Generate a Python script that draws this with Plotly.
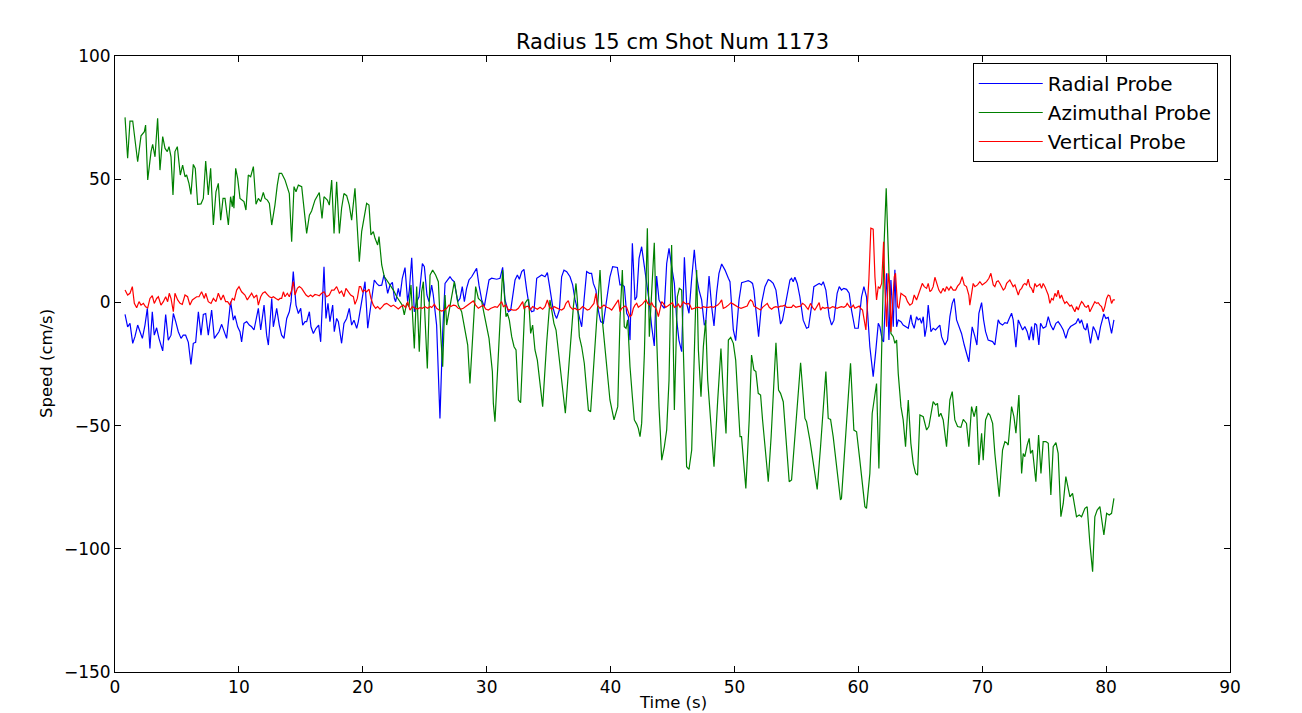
import plotly.graph_objs as go

# Radial probe (blue) - time in s, speed in cm/s
radial_t = [0.81, 1.02, 1.21, 1.43, 1.61, 1.83, 2.02, 2.21, 2.42, 2.61, 2.82, 3.01, 3.17, 3.36, 3.55, 3.85,
            4.09, 4.30, 4.52, 4.71, 4.90, 5.11, 5.33, 5.51, 5.70, 5.92, 6.13, 6.32, 6.51, 6.73, 6.94, 7.13,
            7.32, 7.53, 7.80, 8.02, 8.20, 8.39, 8.61, 8.82, 9.01, 9.33, 9.55, 9.68, 9.90, 10.09,
            10.22, 10.41, 10.63, 10.84, 11.03, 11.22, 11.57, 11.76, 12.03, 12.24, 12.38, 12.65, 12.78, 12.91,
            13.05, 13.26, 13.45, 13.64, 13.86, 14.07, 14.21, 14.39, 14.61, 14.80, 14.99, 15.15, 15.34, 15.47,
            15.69, 15.82, 16.01, 16.22, 16.44, 16.60, 16.87, 17.03, 17.19, 17.35, 17.57, 17.70, 17.89, 18.03,
            18.29, 18.48, 18.70, 18.91, 19.10, 19.29, 19.51, 19.64, 19.83, 20.10, 20.18,
            20.40, 20.58, 20.93, 21.12, 21.31, 21.53, 21.71, 21.85, 22.01, 22.20, 22.39, 22.55, 22.65, 22.87,
            23.00, 23.19, 23.41, 23.62, 23.76, 23.95, 24.16, 24.35, 24.54, 24.81, 24.97, 25.18, 25.34, 25.56,
            25.69, 25.96, 26.23, 26.45, 26.64, 26.85, 27.04, 27.23, 27.39, 27.66, 27.85, 28.03, 28.20, 28.38,
            28.57, 28.79, 29.00, 29.19, 29.38, 29.60, 29.81, 30.00, 30.19, 30.40,
            30.81, 31.08, 31.29, 31.48, 31.75, 31.94, 32.10, 32.29, 32.48, 32.64, 32.83, 33.01, 33.23, 33.44,
            33.63, 33.82, 34.04, 34.25, 34.44, 34.71, 34.90, 35.06, 35.33, 35.52, 35.65, 35.87, 36.05, 36.24,
            36.46, 36.73, 36.94, 37.13, 37.40, 37.67, 37.86, 38.07, 38.29, 38.47, 38.61, 38.82, 39.01, 39.20,
            39.42, 39.74, 39.95, 40.17, 40.36, 40.55,
            40.76, 40.95, 41.11, 41.30, 41.44, 41.57, 41.76, 41.97, 42.11, 42.30, 42.51, 42.73, 42.92, 43.10,
            43.32, 43.53, 43.72, 43.91, 44.13, 44.34, 44.53, 44.72, 44.93, 45.15, 45.34, 45.52, 45.74, 45.96,
            46.14, 46.33, 46.55, 46.76, 46.95, 47.14, 47.35, 47.57, 47.68, 47.95, 48.16, 48.35, 48.56, 48.75,
            48.97, 49.24, 49.51, 49.64, 49.91, 50.10, 50.37, 50.58,
            50.84, 51.11, 51.30, 51.46, 51.57, 51.79, 51.95, 52.19, 52.46, 52.73, 52.91, 53.13, 53.35, 53.53,
            53.72, 53.88, 54.21, 54.48, 54.61, 54.74, 54.88, 55.07, 55.28, 55.55, 55.82, 55.98, 56.22, 56.41,
            56.63, 56.84, 57.03, 57.17, 57.38, 57.65, 57.84, 58.03, 58.29, 58.46, 58.64, 58.83, 59.05, 59.26,
            59.45, 59.72, 59.99, 60.26, 60.45, 60.66,
            60.93, 61.20, 61.39, 61.61, 61.74, 61.93, 62.04, 62.28, 62.47, 62.63, 62.74, 62.82, 62.95, 63.09,
            63.22, 63.44, 63.62, 63.81, 64.03, 64.24, 64.35, 64.51, 64.70, 64.83, 64.97, 65.10, 65.24, 65.37,
            65.51, 65.64, 65.86, 66.04, 66.23, 66.45, 66.58, 66.72, 66.99, 67.20, 67.39, 67.58, 67.74, 67.93,
            68.12, 68.33, 68.55, 68.92, 69.08, 69.19, 69.41, 69.57, 69.73, 69.95, 70.11, 70.27, 70.48,
            70.84, 71.02, 71.29, 71.43, 71.64, 71.83, 72.02, 72.18, 72.37, 72.50, 72.72, 72.91, 73.09, 73.26,
            73.44, 73.63, 73.79, 73.98, 74.12, 74.25, 74.39, 74.57, 74.71, 74.92, 75.14, 75.33, 75.52, 75.73,
            75.95, 76.13, 76.32, 76.54, 76.75, 76.94, 77.13, 77.35, 77.56, 77.75, 77.88, 78.02, 78.21, 78.37,
            78.47, 78.74, 78.96, 79.17, 79.36, 79.55, 79.82, 79.98, 80.17, 80.44, 80.63]
radial_v = [-4.9, -9.9, -8.5, -16.6, -13.9, -9.2, -11.9, -14.6, -9.2, -2.4, -18.7, -3.8, -13.3, -10.3, -14.6, -19.7,
            -4.9, -15.3, -13.3, -4.5, -7.8, -11.9, -14.6, -13.3, -13.3, -16.2, -25.2, -16.6, -16.2, -3.8, -13.3, -4.9,
            -4.5, -13.3, -3.1, -14.6, -13.3, -11.9, -8.9, -11.6, -14.6, 0.3, -7.2, -5.4, -9.9, -11.9,
            -16.0, -8.5, -7.8, -9.2, -9.9, -11.2, -2.4, -11.2, -1.1, -13.3, -17.3, 1.6, -9.9, -6.5,
            -2.4, -9.2, -13.3, -14.6, -6.5, -3.8, 0.3, 12.5, -1.1, -4.5, -2.4, -9.2, -7.8, -7.8,
            -3.8, -9.9, -12.6, -10.5, -9.2, -16.0, 14.5, -6.5, -0.4, -7.8, -1.1, -11.9, -6.5, -7.8,
            -16.6, -8.5, -6.5, -2.4, -9.2, -7.2, -10.5, -7.8, -2.4, 5.0, 8.4,
            -10.5, -3.8, 9.1, 7.7, 6.8, 7.0, 11.1, 8.4, 3.7, 7.0, 8.1, 1.6, 0.3, 5.7,
            2.3, 9.8, 14.1, 0.3, 5.0, 18.1, -3.8, 0.3, 2.3, 15.8, 14.5, 3.0, 0.3, 7.0,
            3.0, -9.2, -47.1, -11.9, 7.7, 9.1, 10.4, 9.1, 8.4, 0.3, 1.6, 6.4, 0.3, 5.7,
            9.1, 10.4, 12.5, 13.8, 7.0, 1.0, -1.7, 4.3, 9.1, 9.8,
            9.4, 9.8, 14.2, 1.0, -3.8, -3.1, 2.3, 9.1, 11.1, 9.4, 12.5, 13.4, 5.0, -1.7,
            -3.8, -3.4, 9.8, 10.4, 11.1, 10.4, 12.1, 7.1, -1.7, -5.1, -6.5, -3.1, 10.4, 13.1,
            12.5, 10.4, 7.1, 1.2, -4.4, -9.9, 1.0, 12.5, 11.8, 11.8, 7.7, 5.0, -3.1, -7.8,
            -8.5, 2.3, 10.4, 14.5, 14.2, 14.2,
            7.1, 7.1, 6.4, -4.4, -5.8, -15.3, 24.0, 1.0, 2.3, 17.9, 22.6, 14.5, 7.7, 1.0,
            -9.9, -17.7, 10.7, 1.0, -1.1, -2.4, 15.8, 21.9, 14.5, 7.7, -7.2, -15.3, -20.0, 18.3,
            -0.4, -4.4, 9.8, 21.3, 10.4, 5.0, 1.0, -9.2, -8.5, 10.7, -1.7, -9.6, 3.7, 11.8,
            15.6, 13.1, 9.8, 8.4, -11.2, -15.5, 1.0, 8.0,
            8.4, 8.8, 8.4, 7.7, 5.0, -5.8, -13.9, -0.4, 6.4, 9.3, 8.8, 7.7, 5.0, -1.7,
            -8.8, -7.2, 2.3, 9.1, 9.8, 8.4, 10.2, 7.7, 2.3, -7.2, -10.5, -10.1, -1.7, 6.4,
            7.1, 7.7, 7.1, 8.4, 5.0, -5.8, -9.2, -7.2, 3.7, 6.4, 5.0, 5.7, 5.3, 3.7,
            -3.1, -10.5, -10.5, 2.3, 6.4, 2.3,
            -18.0, -30.1, -20.7, -8.5, -9.9, -15.3, -16.0, 11.8, -15.3, 9.1, -1.7, -9.9, 13.2, -9.9,
            -7.1, -7.8, -9.2, -9.9, -10.5, -5.1, -8.5, -10.5, -5.8, -7.1, -6.5, -8.5, -5.8, -13.9,
            -9.9, -1.1, -11.9, -10.5, -11.2, -9.9, -9.2, -13.9, -17.3, -15.3, -5.8, -0.4, 1.6, -7.1,
            -9.9, -12.6, -17.3, -24.1, -15.3, -9.9, -13.9, -17.3, -4.4, -0.1, -7.1, -11.9, -15.3,
            -15.9, -17.3, -7.1, -8.5, -9.2, -8.2, -8.5, -6.5, -4.4, -7.1, -18.2, -7.1, -9.2, -11.2,
            -9.8, -11.9, -15.3, -9.8, -15.3, -8.5, -9.2, -17.3, -8.5, -10.5, -9.8, -5.8, -9.2, -11.2,
            -8.5, -7.8, -9.2, -11.2, -14.6, -11.2, -9.8, -9.2, -8.5, -6.5, -8.5, -7.1, -10.5, -11.2,
            -8.5, -16.6, -9.8, -11.9, -15.3, -9.8, -4.7, -6.5, -6.1, -12.6, -7.1]

# Azimuthal probe (green)
azimuthal_t = [0.81, 1.02, 1.21, 1.43, 1.83, 2.10, 2.37, 2.47, 2.64, 2.91, 3.04, 3.23, 3.44, 3.63, 3.85, 4.04,
               4.22, 4.36, 4.52, 4.68, 4.84, 5.03, 5.27, 5.46, 5.65, 5.78, 5.97, 6.13, 6.32, 6.48, 6.67, 6.94,
               7.13, 7.32, 7.53, 7.72, 7.94, 8.15, 8.34, 8.53, 8.72, 8.88, 9.15, 9.33, 9.47, 9.55, 9.60, 9.74,
               9.90, 10.09,
               10.41, 10.57, 10.76, 10.95, 11.17, 11.38, 11.57, 11.76, 11.97, 12.11, 12.30, 12.46, 12.65, 12.91,
               13.10, 13.26, 13.45, 13.72, 14.07, 14.26, 14.45, 14.61, 14.80, 15.07, 15.47, 15.69, 15.87, 16.14,
               16.49, 16.71, 16.87, 17.14, 17.30, 17.49, 17.68, 17.89, 18.11, 18.29, 18.48, 18.70, 18.91, 19.10,
               19.37, 19.72, 19.91, 20.10, 20.31,
               20.50, 20.66, 20.85, 20.99, 21.20, 21.31, 21.53, 21.74, 21.93, 22.20, 22.47, 22.74, 23.00, 23.19,
               23.35, 23.54, 23.73, 23.89, 24.16, 24.35, 24.56, 24.75, 24.89, 25.21, 25.43, 25.64, 25.88, 26.10,
               26.31, 26.45, 26.64, 26.77, 27.39, 27.71, 27.98, 28.25, 28.47, 28.65, 28.92, 29.11, 29.33, 29.60,
               29.81, 30.19, 30.46,
               30.54, 30.67, 31.29, 31.56, 31.67, 31.83, 32.02, 32.21, 32.37, 32.56, 32.74, 33.09, 33.28, 33.39,
               33.55, 33.71, 33.90, 34.09, 34.31, 34.52, 34.84, 35.11, 35.25, 35.43, 35.60, 35.78, 35.97, 36.19,
               36.35, 36.67, 37.00, 37.21, 37.32, 37.48, 37.67, 37.88, 38.07, 38.21, 38.39, 38.74, 39.15, 39.36,
               39.55, 39.74, 39.95, 40.28,
               40.58, 40.76, 40.95, 41.11, 41.25, 41.38, 41.57, 41.76, 41.92, 42.11, 42.24, 42.38, 42.51, 42.73,
               42.86, 42.97, 43.13, 43.32, 43.53, 43.72, 43.91, 44.13, 44.34, 44.53, 44.72, 44.93, 45.15, 45.39,
               45.55, 45.74, 45.93, 46.14, 46.33, 46.55, 46.76, 46.95, 47.09, 47.30, 47.49, 47.68, 47.84, 48.16,
               48.35, 48.65, 48.91, 49.10, 49.32, 49.51, 49.70, 49.91, 50.10, 50.31, 50.45,
               50.57, 50.92, 51.19, 51.38, 51.57, 51.73, 51.92, 52.11, 52.27, 52.46, 52.73, 52.96, 53.18, 53.35,
               53.56, 53.72, 53.94, 54.15, 54.42, 54.61, 54.96, 55.34, 55.69, 55.82, 56.09, 56.41, 56.68, 56.95,
               57.38, 57.57, 57.76, 57.97, 58.24, 58.56, 58.64, 58.99, 59.37, 59.64, 59.86, 60.12, 60.53,
               60.66, 60.93, 61.12, 61.34, 61.47, 61.66, 61.88, 62.09, 62.25, 62.41, 62.63, 62.82, 62.95, 63.09,
               63.22, 63.44, 63.62, 63.81, 64.03, 64.24, 64.43, 64.62, 64.78, 64.97, 65.24, 65.51, 65.69, 66.04,
               66.23, 66.39, 66.50, 66.66, 66.85, 67.12, 67.39, 67.58, 67.79, 68.01, 68.28, 68.47, 68.73, 68.92,
               69.14, 69.35, 69.54, 69.73, 69.95, 70.08, 70.27, 70.48,
               70.62, 70.84, 71.02, 71.37, 71.64, 71.83, 71.97, 72.10, 72.37, 72.56, 72.72, 72.96, 73.18, 73.31,
               73.44, 73.63, 73.79, 73.90, 74.06, 74.33, 74.55, 74.74, 74.92, 75.14, 75.33, 75.54, 75.73, 75.95,
               76.13, 76.35, 76.54, 76.75, 76.94, 77.08, 77.29, 77.48, 77.61, 77.83, 78.02, 78.29, 78.47, 78.69,
               78.91, 79.09, 79.28, 79.50, 79.82, 80.04, 80.25, 80.44, 80.63]
azimuthal_v = [75.1, 58.5, 73.6, 73.6, 57.1, 67.6, 69.3, 72.0, 49.7, 61.2, 64.1, 59.1, 74.7, 53.7, 67.3, 62.5,
               61.2, 63.2, 59.1, 43.6, 61.2, 63.2, 51.7, 55.7, 51.0, 51.7, 48.3, 43.8, 56.0, 54.4, 39.8, 40.0,
               42.2, 57.4, 43.6, 54.4, 31.4, 44.9, 48.3, 33.4, 42.2, 42.2, 31.4, 42.9, 38.8, 43.3, 38.2, 54.4,
               50.3, 42.2,
               40.9, 37.5, 51.7, 51.0, 55.1, 39.8, 42.2, 40.9, 44.6, 42.2, 41.5, 40.2, 31.4, 39.5,
               47.6, 52.4, 52.4, 49.7, 44.2, 24.6, 47.0, 44.9, 47.6, 47.0, 28.0, 35.4, 37.1, 41.5,
               44.6, 34.1, 42.9, 41.5, 39.5, 49.7, 28.0, 49.0, 28.0, 38.2, 44.2, 43.3, 39.5, 33.4,
               46.3, 16.5, 28.7, 34.1, 40.2,
               39.5, 27.4, 28.7, 26.0, 23.3, 26.7, 15.2, 10.4, 9.1, 7.1, 5.0, 2.3, 0.3, -1.1,
               -5.1, -0.4, -1.7, 7.1, -18.7, 6.4, -20.0, 4.3, 8.4, -26.8, 11.1, 13.1, 11.1, 8.4,
               -14.6, -26.1, 3.0, -9.2, 8.4, -1.1, -3.8, -11.9, -17.3, -32.9, -9.2, 6.4, 1.6, 0.3,
               -5.1, -14.6, -28.1,
               -41.0, -48.4, 13.1, -5.8, -4.4, -7.2, -13.9, -18.0, -19.3, -39.6, -40.7, -0.4, 1.0, 1.0,
               -12.6, -9.2, -19.3, -23.4, -34.2, -42.3, -16.6, 1.0, -3.1, -8.5, -11.2, -19.3, -26.1, -38.3,
               -45.0, -23.4, -1.7, 7.7, 1.0, -13.9, -18.0, -24.7, -34.2, -43.7, -44.4, -19.3, 13.1, -8.5,
               -19.3, -27.4, -39.6, -47.7,
               -42.3, -7.1, 13.1, -9.9, -10.5, -7.1, -26.1, -38.3, -47.7, -49.4, -51.1, -54.5, -49.1, -20.7,
               6.4, 30.1, -13.9, 6.4, 24.2, -13.9, -42.3, -64.0, -58.6, -51.8, -31.5, 23.3, -43.7, 2.3,
               5.7, 5.0, -34.2, -66.7, -67.8, -59.9, -20.7, 13.1, -19.3, -38.3, -18.0, -7.2, -31.5, -54.5,
               -66.7, -39.6, -18.7, -36.9, -53.2, -15.3, -14.2, -16.6, -23.4, -42.3, -54.5,
               -54.5, -75.5, -47.7, -21.4, -27.4, -28.1, -36.9, -37.6, -47.7, -58.6, -72.8, -54.5, -34.2, -16.4,
               -35.6, -36.9, -40.3, -53.2, -72.8, -72.1, -47.7, -24.5, -47.1, -48.4, -55.9, -68.0, -75.9, -58.6,
               -28.1, -47.1, -47.5, -54.5, -66.7, -80.2, -79.5, -53.2, -24.7, -51.8, -52.5, -64.0, -82.9,
               -83.6, -69.4, -45.0, -36.9, -32.9, -67.4, -18.0, 25.3, 46.3, 17.2, -12.6, -13.9, -16.6, -15.3,
               -28.8, -42.3, -47.7, -58.6, -39.6, -57.2, -65.3, -69.4, -70.1, -45.7, -46.4, -51.8, -50.4, -40.3,
               -41.6, -41.0, -46.4, -45.0, -47.7, -58.6, -39.6, -36.2, -47.7, -50.4, -50.7, -47.5, -49.1, -58.6,
               -42.3, -46.4, -42.1, -66.0, -53.1, -64.0, -47.7, -45.0,
               -45.7, -49.1, -61.3, -78.9, -59.9, -56.5, -56.9, -57.9, -42.3, -46.4, -53.1, -37.6, -69.4, -61.3,
               -62.6, -57.9, -55.2, -61.3, -59.9, -72.8, -53.8, -69.4, -56.5, -56.5, -57.2, -78.2, -58.6, -56.9,
               -61.3, -87.0, -81.6, -70.7, -74.8, -78.9, -77.5, -83.6, -87.0, -86.3, -87.0, -83.6, -82.9, -97.8,
               -109.3, -87.0, -84.3, -82.9, -94.4, -85.6, -86.3, -85.6, -79.5]

# Vertical probe (red)
vertical_t = [0.81, 1.02, 1.21, 1.40, 1.56, 1.75, 1.94, 2.10, 2.29, 2.47, 2.64, 2.82, 3.01, 3.17, 3.36, 3.50,
              3.71, 3.90, 4.09, 4.25, 4.38, 4.52, 4.71, 4.84, 5.06, 5.25, 5.43, 5.65, 5.86, 6.05, 6.24, 6.40,
              6.59, 6.78, 6.99, 7.21, 7.32, 7.53, 7.75, 7.94, 8.15, 8.34, 8.55, 8.74, 8.93, 9.09, 9.28, 9.47,
              9.63, 9.82, 10.01, 10.22,
              10.49, 10.68, 10.84, 11.03, 11.22, 11.44, 11.57, 11.76, 11.92, 12.11, 12.30, 12.46, 12.65, 12.78,
              12.99, 13.18, 13.32, 13.45, 13.59, 13.72, 13.91, 14.07, 14.26, 14.39, 14.53, 14.72, 14.88, 15.07,
              15.25, 15.42, 15.60, 15.79, 15.95, 16.14, 16.33, 16.49, 16.68, 16.87, 17.08, 17.30, 17.49, 17.68,
              17.89, 18.11, 18.29, 18.48, 18.64, 18.83, 19.02, 19.24, 19.37, 19.56, 19.72, 19.83, 19.99, 20.18,
              20.31, 20.50, 20.66, 20.85, 21.04, 21.20, 21.39, 21.58, 21.74, 21.93, 22.12, 22.28, 22.47, 22.65,
              22.87, 23.09, 23.27, 23.46, 23.62, 23.81, 24.00, 24.22, 24.43, 24.62, 24.81, 25.02, 25.24, 25.43,
              25.56, 25.78, 25.96, 26.15, 26.37, 26.58, 26.77, 26.96, 27.12, 27.31, 27.50, 27.71, 27.93, 28.12,
              28.30, 28.52, 28.73, 28.92, 29.11, 29.33, 29.54, 29.73, 29.92, 30.13, 30.35,
              30.67, 30.86, 31.02, 31.21, 31.35, 31.56, 31.75, 31.94, 32.15, 32.37, 32.56, 32.74, 32.91, 33.01,
              33.18, 33.36, 33.50, 33.71, 33.90, 34.09, 34.31, 34.52, 34.71, 34.90, 35.06, 35.25, 35.43, 35.65,
              35.87, 36.05, 36.24, 36.40, 36.59, 36.73, 36.94, 37.13, 37.32, 37.53, 37.75, 37.94, 38.12, 38.29,
              38.47, 38.66, 38.82, 38.93, 39.15, 39.28, 39.47, 39.69, 39.90, 40.09, 40.28, 40.44, 40.63,
              40.76, 40.90, 41.03, 41.17, 41.30, 41.44, 41.57, 41.71, 41.84, 41.97, 42.11, 42.24, 42.38, 42.57,
              42.73, 42.86, 43.00, 43.18, 43.32, 43.45, 43.59, 43.72, 43.86, 43.99, 44.13, 44.26, 44.45, 44.61,
              44.74, 44.88, 44.99, 45.15, 45.34, 45.47, 45.61, 45.74, 45.87, 46.01, 46.14, 46.28, 46.41, 46.55,
              46.76, 46.95, 47.14, 47.30, 47.49, 47.68, 47.89, 48.11, 48.30, 48.48, 48.65, 48.83, 48.97, 49.10,
              49.29, 49.51, 49.72, 49.91, 50.10, 50.31, 50.53, 50.72,
              50.84, 51.03, 51.19, 51.30, 51.46, 51.57, 51.73, 51.92, 52.11, 52.27, 52.46, 52.65, 52.81, 53.00,
              53.18, 53.35, 53.53, 53.72, 53.88, 54.07, 54.21, 54.42, 54.61, 54.74, 54.96, 55.15, 55.34, 55.50,
              55.69, 55.82, 55.95, 56.14, 56.30, 56.49, 56.68, 56.84, 56.95, 57.11, 57.30, 57.49, 57.70, 57.92,
              58.11, 58.29, 58.46, 58.64, 58.83, 58.99, 59.10, 59.32, 59.45, 59.59, 59.72, 59.86, 60.07, 60.18,
              60.34, 60.61,
              60.85, 61.01, 61.20, 61.34, 61.47, 61.61, 61.74, 61.88, 62.04, 62.14, 62.28, 62.41, 62.55, 62.63,
              62.90, 63.00, 63.17, 63.27, 63.44, 63.62, 63.81, 63.97, 64.16, 64.35, 64.51, 64.70, 64.89, 65.05,
              65.16, 65.32, 65.51, 65.64, 65.78, 65.91, 66.04, 66.18, 66.31, 66.50, 66.66, 66.85, 66.99, 67.12,
              67.31, 67.47, 67.66, 67.85, 68.01, 68.20, 68.38, 68.55, 68.73, 68.92, 69.00, 69.14, 69.27, 69.41,
              69.62, 69.81, 70.00, 70.16, 70.35, 70.54, 70.70,
              70.89, 71.02, 71.16, 71.29, 71.43, 71.56, 71.70, 71.83, 71.97, 72.10, 72.23, 72.37, 72.50, 72.64,
              72.77, 72.91, 73.04, 73.18, 73.31, 73.44, 73.58, 73.71, 73.85, 73.98, 74.12, 74.25, 74.39, 74.52,
              74.66, 74.79, 74.92, 75.06, 75.19, 75.33, 75.46, 75.60, 75.73, 75.87, 76.00, 76.13, 76.27, 76.40,
              76.54, 76.67, 76.81, 76.94, 77.08, 77.21, 77.35, 77.48, 77.61, 77.75, 77.88, 78.02, 78.15, 78.29,
              78.42, 78.56, 78.69, 78.83, 78.96, 79.09, 79.23, 79.36, 79.50, 79.63, 79.77, 79.90, 80.04, 80.17,
              80.30, 80.44, 80.57, 80.71]
vertical_v = [5.0, 3.0, 3.7, 6.4, -0.4, -2.2, 0.3, -1.1, -0.4, -1.8, -2.2, 1.6, 2.7, -0.4, 1.6, 2.3,
              -1.1, 0.3, 2.3, 0.3, 3.7, 1.6, -3.8, 3.7, 1.0, -0.4, -0.8, 3.0, 2.3, -1.1, 1.0, 1.6,
              2.3, 2.3, 4.3, 1.6, 3.7, 0.3, -0.4, 1.6, 0.3, 3.7, 1.0, 3.0, 0.3, 0.3, -1.1, 1.6,
              1.0, 5.0, 6.4, 4.3,
              3.0, 1.0, 2.3, 3.7, 1.9, 3.0, -1.1, 2.3, 3.7, 4.3, 3.2, 2.3, 1.9, 2.3,
              1.6, 1.0, 1.6, 1.6, 4.3, 2.3, 3.7, 2.3, 5.0, 8.4, 3.0, 5.7, 6.4, 5.7,
              4.3, 3.0, 2.3, 3.0, 2.3, 3.2, 3.0, 2.7, 3.7, 4.3, 2.3, 3.0, 5.0, 5.0,
              6.4, 3.7, 4.6, 2.3, 5.7, 4.3, 3.0, 2.3, -0.8, 1.6, 6.4, 6.4, 4.3, 5.0,
              4.3, 5.4, 1.6, -1.1, -2.4, -1.7, -2.7, -1.7, -0.8, -0.4, -1.1, -1.7, -1.1, -1.7,
              -2.7, -1.7, -1.1, -2.1, 0.3, -3.1, -1.7, -2.4, -2.7, -2.1, -2.4, -1.7, -2.4, -1.7,
              -2.1, -0.8, -2.4, -3.1, -3.5, -3.1, -2.4, -1.1, -1.7, -1.1, -1.3, -2.4, -2.7, -2.4,
              -1.7, -1.1, -0.4, 0.6, -1.1, -2.4, -1.7, -1.1, -2.7, -3.1, -2.4,
              -1.7, -2.0, -1.1, 0.3, -1.7, -1.1, -3.1, -2.8, -3.1, -3.1, -2.4, -1.1, 0.3, -2.4,
              -1.7, -1.5, -3.1, -1.7, -2.4, -2.8, -2.0, -2.8, -1.7, 1.0, -1.7, -2.8, -1.7, -2.4,
              -2.8, -3.1, -2.4, -0.4, 0.7, -1.7, -2.8, -2.4, -3.1, -2.8, -1.7, -2.4, -3.1, -2.8,
              -1.7, -0.4, 3.7, -1.1, -2.4, -1.7, -1.1, -2.0, -2.4, -3.1, -1.7, -0.7, 1.0,
              -3.8, -2.4, -2.0, -1.5, -2.0, -4.4, -5.8, -5.1, -2.4, -1.1, -0.4, -2.0, -1.5, -0.7,
              0.3, 1.0, -0.4, -1.1, -0.1, -1.5, -2.0, -3.1, -5.8, -3.1, 0.3, -0.4, -2.0, -1.5,
              -1.1, -0.4, -0.1, -2.0, -1.5, -0.7, -2.0, -1.1, 0.3, -0.4, -0.7, -0.4, -1.1, -2.8,
              -2.4, -2.0, -2.0, -2.4, -1.7, -2.0, -2.0, -1.7, -2.0, -1.5, -1.1, -0.1, 1.0, -2.4,
              -2.0, -1.1, -0.1, -0.7, -1.5, -2.0, -2.4, -2.0,
              -2.0, -1.5, 0.3, 1.0, 0.3, -1.5, -2.0, -2.4, -3.1, -2.0, -1.1, -0.4, -2.0, -2.8,
              -2.0, -1.7, -2.0, -1.5, -1.5, -1.1, -2.0, -2.0, -2.0, -1.1, -2.0, -1.7, -1.5, -0.4,
              -1.1, -2.0, -2.8, -0.4, -2.0, -3.1, -1.1, -0.1, -3.1, -2.0, -2.4, -2.0, -2.4, -1.7,
              -2.0, -2.4, -2.0, -1.7, -2.0, -1.5, -0.4, -2.0, -2.0, -1.1, -2.4, -2.0, -1.5, -2.4,
              -3.1, -11.2,
              9.1, 30.1, 29.7, 10.4, 1.0, 6.4, 5.7, 7.7, 24.6, 6.4, -9.9, 11.8, 6.4, -11.9,
              10.4, 11.8, -1.7, -2.4, 3.7, 3.0, 2.3, 0.3, -1.1, -0.4, 3.0, 1.0, 3.7, 5.7,
              7.7, 6.4, 5.7, 7.7, 4.4, 5.0, 6.4, 10.2, 7.7, 5.0, 3.7, 5.7, 4.4, 6.4,
              5.0, 6.4, 5.0, 5.0, 6.6, 7.7, 10.4, 7.1, 6.4, 3.0, -1.1, 3.7, 7.7, 6.4,
              7.1, 8.4, 7.1, 7.7, 8.4, 9.8, 11.8,
              7.1, 6.4, 8.4, 8.8, 7.7, 6.4, 5.0, 5.7, 7.7, 8.4, 9.1, 7.7, 6.4, 7.1,
              5.0, 3.0, 5.0, 5.7, 7.1, 7.7, 7.1, 9.4, 6.4, 5.7, 3.9, 7.7, 6.4, 7.1,
              7.5, 5.7, 7.7, 6.4, 4.4, 3.0, -0.4, 1.6, 1.0, 3.7, 2.3, 5.0, 1.6, 3.0,
              1.0, -0.4, 0.3, -0.4, -1.5, -1.1, -2.4, -3.8, -1.7, -3.1, -1.1, 0.3, -0.4, -1.7,
              -2.0, -1.1, -3.8, -2.4, -1.1, 0.3, -0.4, -0.1, -1.1, -1.7, -3.8, -1.7, 1.6, 3.0,
              2.6, -0.4, 1.0, 1.0]

font_family = "DejaVu Sans, Liberation Sans, sans-serif"

fig = go.Figure()
fig.add_trace(go.Scatter(x=radial_t, y=radial_v, mode='lines', name='Radial Probe',
                         line=dict(color='#0000ff', width=1.2)))
fig.add_trace(go.Scatter(x=azimuthal_t, y=azimuthal_v, mode='lines', name='Azimuthal Probe',
                         line=dict(color='#008000', width=1.2)))
fig.add_trace(go.Scatter(x=vertical_t, y=vertical_v, mode='lines', name='Vertical Probe',
                         line=dict(color='#ff0000', width=1.2)))

axis_style = dict(showgrid=False, zeroline=False, showline=True, linecolor='black', linewidth=1,
                  mirror='allticks', ticks='inside', ticklen=6, tickcolor='black', tickwidth=1,
                  tickfont=dict(family=font_family, size=17, color='black'))

# the page puts the figure 8 px in from the top-left corner, so size it to fit
fig.update_layout(
    width=1294, height=705,
    margin=dict(l=107, r=72, t=48, b=41),
    paper_bgcolor='white', plot_bgcolor='white',
    font=dict(family=font_family, color='black'),
    title=dict(text='Radius 15 cm Shot Num 1173', x=0.5, xref='paper', y=1 - 34 / 705,
               yref='container', xanchor='center', yanchor='middle',
               font=dict(family=font_family, size=21, color='black')),
    xaxis=dict(range=[0, 90], tickmode='linear', tick0=0, dtick=10, **axis_style),
    yaxis=dict(range=[-150, 100], tickmode='linear', tick0=-150, dtick=50, **axis_style),
    legend=dict(x=0.989, y=0.9886, xanchor='right', yanchor='top', bgcolor='white',
                bordercolor='black', borderwidth=1, itemwidth=64,
                font=dict(family=font_family, size=20, color='black')),
    showlegend=True,
)

# axis labels placed like the original figure
fig.add_annotation(text='Time (s)', xref='paper', yref='paper', x=0.5, y=-30 / 616,
                   xanchor='center', yanchor='middle', showarrow=False,
                   font=dict(family=font_family, size=16.5, color='black'))
fig.add_annotation(text='Speed (cm/s)', xref='paper', yref='paper', x=-69 / 1115, y=0.5,
                   xanchor='center', yanchor='middle', textangle=-90, showarrow=False,
                   font=dict(family=font_family, size=16.5, color='black'))

fig.write_html("out.html")
